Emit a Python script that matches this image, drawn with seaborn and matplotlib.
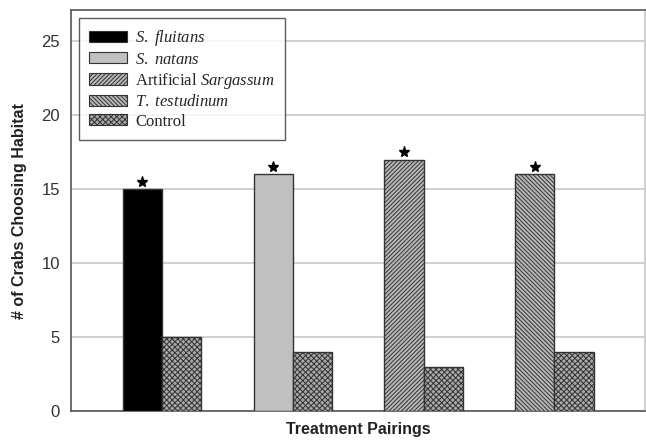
import matplotlib
matplotlib.use("Agg")
import matplotlib.pyplot as plt
import seaborn as sns
import pandas as pd
from matplotlib.patches import Patch

# Habitat choice counts per treatment pairing
pairings = ["S. fluitans", "S. natans", "Artificial Sargassum", "T. testudinum"]
treatment_counts = [15, 16, 17, 16]
control_counts = [5, 4, 3, 4]
significant = [True, True, True, True]

yticks = [0, 5, 10, 15, 20, 25]

sns.set_theme(style="white")
plt.rcParams["font.family"] = ["Liberation Sans", "DejaVu Sans"]
plt.rcParams["mathtext.fontset"] = "custom"
plt.rcParams["mathtext.rm"] = "Liberation Serif"
plt.rcParams["mathtext.it"] = "Liberation Serif:italic"
plt.rcParams["hatch.linewidth"] = 0.7
plt.rcParams["hatch.color"] = "#222222"

df = pd.DataFrame({
    "pairing": pairings * 2,
    "role": ["Treatment"] * len(pairings) + ["Control"] * len(pairings),
    "count": treatment_counts + control_counts,
})

fig = plt.figure(figsize=(6.46, 4.42), dpi=100)
ax = fig.add_axes([0.110, 0.070, 0.888, 0.907])

sns.barplot(data=df, x="pairing", y="count", hue="role",
            order=pairings, hue_order=["Treatment", "Control"],
            width=0.6, gap=0, ax=ax, legend=False, errorbar=None,
            palette=["#bbbbbb", "#bbbbbb"], zorder=3)

# Per-habitat fill styles
styles = {
    "S. fluitans": dict(facecolor="black", hatch=None),
    "S. natans": dict(facecolor="#c0c0c0", hatch=None),
    "Artificial Sargassum": dict(facecolor="#b8b8b8", hatch="////////"),
    "T. testudinum": dict(facecolor="#b8b8b8", hatch="\\\\\\\\\\\\\\\\"),
}
control_style = dict(facecolor="#a8a8a8", hatch="xxxxxx")

treat_bars, ctrl_bars = ax.containers[0], ax.containers[1]
for name, bar in zip(pairings, treat_bars):
    st = styles[name]
    bar.set_facecolor(st["facecolor"])
    bar.set_hatch(st["hatch"])
    bar.set_edgecolor("#333333")
    bar.set_linewidth(1.0)
for bar in ctrl_bars:
    bar.set_facecolor(control_style["facecolor"])
    bar.set_hatch(control_style["hatch"])
    bar.set_edgecolor("#333333")
    bar.set_linewidth(1.0)

# Significance stars above the treatment bars
for bar, val, sig in zip(treat_bars, treatment_counts, significant):
    if sig:
        cx = bar.get_x() + bar.get_width() / 2
        ax.plot(cx, val + 0.5, marker="*", color="black", markersize=8, zorder=4)

ax.set_ylim(0, 27.1)
ax.set_xlim(-0.695, 3.69)
ax.set_yticks(yticks)
ax.set_xticks([])
ax.yaxis.grid(True, color="#d0d0d0", linewidth=1.4, zorder=0)
ax.set_axisbelow(True)
ax.tick_params(axis="y", labelsize=12, colors="#333333", pad=8, length=0)

ax.set_ylabel("# of Crabs Choosing Habitat", fontsize=11.5, fontweight="bold",
              color="#222222", labelpad=10)
ax.set_xlabel("Treatment Pairings", fontsize=11.5, fontweight="bold",
              color="#222222", labelpad=8)

for side in ["left", "bottom", "top"]:
    ax.spines[side].set_color("#555555")
    ax.spines[side].set_linewidth(1.2)
ax.spines["right"].set_color("#c8c8c8")
ax.spines["right"].set_linewidth(1.2)

legend_labels = [r"$\it{S.}$ $\it{fluitans}$", r"$\it{S.}$ $\it{natans}$",
                 r"Artificial $\it{Sargassum}$", r"$\it{T.}$ $\it{testudinum}$", "Control"]
handles = [Patch(facecolor=styles[n]["facecolor"], hatch=styles[n]["hatch"],
                 edgecolor="#333333", linewidth=0.8) for n in pairings]
handles.append(Patch(facecolor=control_style["facecolor"], hatch=control_style["hatch"],
                     edgecolor="#333333", linewidth=0.8))
leg = ax.legend(handles, legend_labels, loc="upper left",
                bbox_to_anchor=(0.013, 0.98), frameon=True, fancybox=False,
                prop={"family": "Liberation Serif", "size": 12},
                handlelength=2.3, handleheight=0.65, labelspacing=0.2,
                handletextpad=0.5, borderpad=0.6, borderaxespad=0)
leg.get_frame().set_edgecolor("#333333")
leg.get_frame().set_linewidth(1.0)

fig.savefig("out.png", dpi=100)
